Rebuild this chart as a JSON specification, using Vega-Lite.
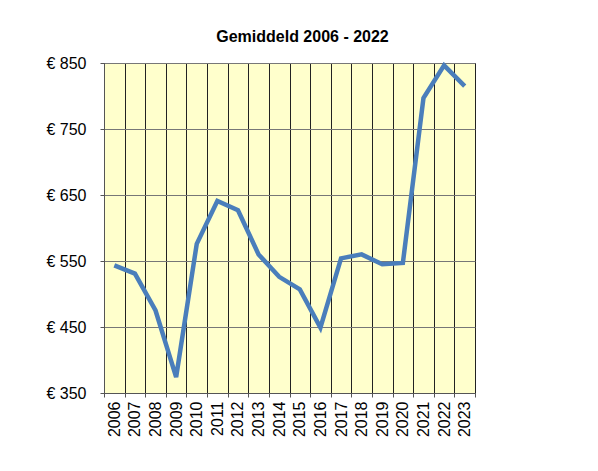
{
  "$schema": "https://vega.github.io/schema/vega-lite/v6.json",
  "autosize": "none",
  "width": 371,
  "height": 330,
  "padding": {"left": 104, "top": 63, "right": 123, "bottom": 78},
  "background": "white",
  "title": {
    "text": "Gemiddeld 2006 - 2022",
    "font": "Liberation Sans",
    "fontSize": 16,
    "fontWeight": "bold",
    "color": "black",
    "anchor": "middle",
    "dx": 13,
    "offset": 10
  },
  "config": {
    "view": {"fill": "#FFFFCC", "stroke": "#333333", "strokeWidth": 1}
  },
  "data": {
    "values": [
      {"year": "2006", "value": 543.5},
      {"year": "2007", "value": 531},
      {"year": "2008", "value": 475},
      {"year": "2009", "value": 374},
      {"year": "2010", "value": 576},
      {"year": "2011", "value": 641},
      {"year": "2012", "value": 627},
      {"year": "2013", "value": 560},
      {"year": "2014", "value": 526},
      {"year": "2015", "value": 507},
      {"year": "2016", "value": 449},
      {"year": "2017", "value": 554},
      {"year": "2018", "value": 560},
      {"year": "2019", "value": 545},
      {"year": "2020", "value": 547},
      {"year": "2021", "value": 797},
      {"year": "2022", "value": 846.5},
      {"year": "2023", "value": 815}
    ]
  },
  "mark": {"type": "line", "color": "#4A7EBB", "strokeWidth": 4.5, "strokeJoin": "miter"},
  "encoding": {
    "x": {
      "field": "year",
      "type": "ordinal",
      "scale": {"paddingInner": 0, "paddingOuter": 0},
      "axis": {
        "title": null,
        "labelAngle": -90,
        "labelFont": "Liberation Sans",
        "labelFontSize": 16,
        "labelColor": "black",
        "labelPadding": 4,
        "tickBand": "extent",
        "ticks": true,
        "tickSize": 4,
        "tickColor": "#555555",
        "domainColor": "#555555",
        "grid": true,
        "gridColor": "#222222",
        "gridWidth": 1,
        "gridOpacity": 1
      }
    },
    "y": {
      "field": "value",
      "type": "quantitative",
      "scale": {"domain": [350, 850], "nice": false, "zero": false},
      "axis": {
        "title": null,
        "values": [350, 450, 550, 650, 750, 850],
        "labelExpr": "'€ ' + datum.value",
        "labelFont": "Liberation Sans",
        "labelFontSize": 16,
        "labelColor": "black",
        "labelPadding": 14,
        "tickSize": 4,
        "tickColor": "#555555",
        "domainColor": "#555555",
        "grid": true,
        "gridColor": "#777777",
        "gridWidth": 1,
        "gridOpacity": 1
      }
    }
  }
}
